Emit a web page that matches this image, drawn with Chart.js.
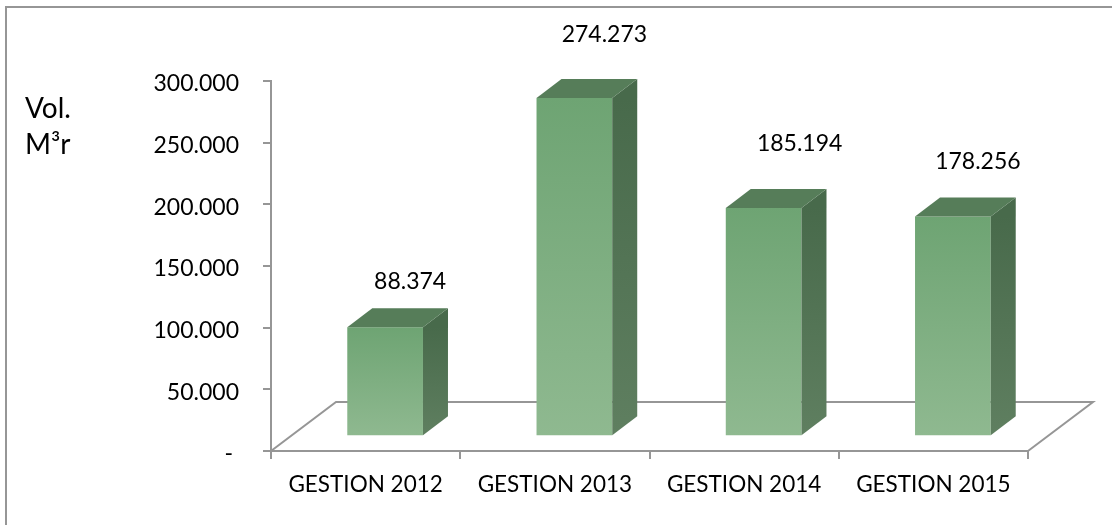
<!DOCTYPE html>
<html>
<head>
<meta charset="utf-8">
<style>
    body { margin: 0; background: #fff; }
    canvas { display: block; }
</style>
<script src="https://cdn.jsdelivr.net/npm/chart.js@4"></script>
</head>
<body>
<canvas id="chart" width="1112" height="525"></canvas>
<script>
"use strict";
const categories = ["GESTION 2012", "GESTION 2013", "GESTION 2014", "GESTION 2015"];
const volumes = [88374, 274273, 185194, 178256];
const valueTicks = [0, 50000, 100000, 150000, 200000, 250000, 300000];
const axisTitle = ["Vol.", "M³r"];

// labels in the original were dragged by hand, so each has its own nudge
const labelNudgeX = [25, 30, 36, 25];
const labelNudgeY = [-46, -63, -64, -55];

const AXIS_COLOR = "#969696";
const FONT = "Lato, sans-serif";
const FLOOR_X = 65, FLOOR_Y = 49;   // depth of the floor
const BAR_X = 25, BAR_Y = 19;       // depth of a bar
const SHIFT_X = 19.5, SHIFT_Y = -14.7;  // bars stand in the middle of the floor

function fmt(v) {
    return v.toString().replace(/\B(?=(\d{3})+$)/g, ".");
}

function poly(ctx, pts, fill) {
    ctx.beginPath();
    ctx.moveTo(pts[0][0], pts[0][1]);
    for (let i = 1; i < pts.length; i++) ctx.lineTo(pts[i][0], pts[i][1]);
    ctx.closePath();
    ctx.fillStyle = fill;
    ctx.fill();
}

const scene3d = {
    id: "scene3d",
    beforeDraw(chart) {
        const ctx = chart.ctx;
        ctx.save();
        ctx.fillStyle = "#fff";
        ctx.fillRect(0, 0, chart.width, chart.height);
        // only the top and left of the frame are inside the picture
        ctx.strokeStyle = AXIS_COLOR;
        ctx.lineWidth = 2;
        ctx.beginPath();
        ctx.moveTo(6, chart.height);
        ctx.lineTo(6, 7);
        ctx.lineTo(chart.width, 7);
        ctx.stroke();
        ctx.fillStyle = "#000";
        ctx.font = "28px " + FONT;
        ctx.textBaseline = "middle";
        ctx.fillText(axisTitle[0], 25, 109);
        ctx.fillText(axisTitle[1], 25, 145);
        ctx.restore();
    },
    beforeDatasetsDraw(chart) {
        const ctx = chart.ctx, a = chart.chartArea;
        ctx.save();
        ctx.strokeStyle = AXIS_COLOR;
        ctx.lineWidth = 2;
        ctx.beginPath();
        ctx.moveTo(a.left, a.bottom);
        ctx.lineTo(a.left + FLOOR_X, a.bottom - FLOOR_Y);
        ctx.lineTo(a.right + FLOOR_X, a.bottom - FLOOR_Y);
        ctx.lineTo(a.right, a.bottom);
        ctx.stroke();
        ctx.restore();
        // bars are drawn by the library, just moved onto the floor
        ctx.save();
        ctx.translate(SHIFT_X, SHIFT_Y);
    },
    afterDatasetsDraw(chart) {
        const ctx = chart.ctx;
        chart.getDatasetMeta(0).data.forEach(function (bar) {
            const l = bar.x - bar.width / 2, r = bar.x + bar.width / 2;
            const side = ctx.createLinearGradient(0, bar.y, 0, bar.base);
            side.addColorStop(0, "#486a4b");
            side.addColorStop(1, "#5f7f60");
            poly(ctx, [[r, bar.y], [r + BAR_X, bar.y - BAR_Y], [r + BAR_X, bar.base - BAR_Y], [r, bar.base]], side);
            poly(ctx, [[l, bar.y], [l + BAR_X, bar.y - BAR_Y], [r + BAR_X, bar.y - BAR_Y], [r, bar.y]], "#567d59");
        });
        ctx.restore();

        ctx.save();
        ctx.fillStyle = "#000";
        ctx.font = "23px " + FONT;
        ctx.textAlign = "center";
        ctx.textBaseline = "middle";
        chart.getDatasetMeta(0).data.forEach(function (bar, i) {
            ctx.fillText(fmt(volumes[i]), bar.x + SHIFT_X + labelNudgeX[i], bar.y + SHIFT_Y + labelNudgeY[i]);
        });
        ctx.restore();
    }
};

const chart = new Chart(document.getElementById("chart"), {
    type: "bar",
    data: {
        labels: categories,
        datasets: [{
            data: volumes,
            clip: false,
            barPercentage: 0.4,
            categoryPercentage: 1,
            backgroundColor: function (context) {
                const y = context.chart.scales.y;
                const top = y ? y.getPixelForValue(context.raw) : NaN;
                const bottom = y ? y.getPixelForValue(0) : NaN;
                if (!isFinite(top) || !isFinite(bottom)) return "#7fae82";
                const g = context.chart.ctx.createLinearGradient(0, top, 0, bottom);
                g.addColorStop(0, "#6ea473");
                g.addColorStop(1, "#8fb990");
                return g;
            }
        }]
    },
    options: {
        responsive: false,
        animation: false,
        layout: { padding: { left: 0, top: 81, right: 84, bottom: 0 } },
        plugins: { legend: { display: false }, tooltip: { enabled: false } },
        scales: {
            x: {
                grid: { drawOnChartArea: false, color: AXIS_COLOR, lineWidth: 2, tickLength: 8 },
                border: { color: AXIS_COLOR, width: 2 },
                ticks: { color: "#000", font: { family: FONT, size: 22.5 }, maxRotation: 0, padding: 12 },
                afterFit(scale) { scale.height = 74; }
            },
            y: {
                min: 0,
                max: 300000,
                afterBuildTicks(scale) { scale.ticks = valueTicks.map(function (v) { return { value: v }; }); },
                grid: { drawOnChartArea: false, color: AXIS_COLOR, lineWidth: 2, tickLength: 8 },
                border: { color: AXIS_COLOR, width: 2 },
                ticks: {
                    color: "#000",
                    font: { family: FONT, size: 23 },
                    padding: 24,
                    labelOffset: 3,
                    callback: function (v) { return v === 0 ? "- " : fmt(v); }
                },
                afterFit(scale) { scale.width = 271; }
            }
        }
    },
    plugins: [scene3d]
});
</script>
</body>
</html>
